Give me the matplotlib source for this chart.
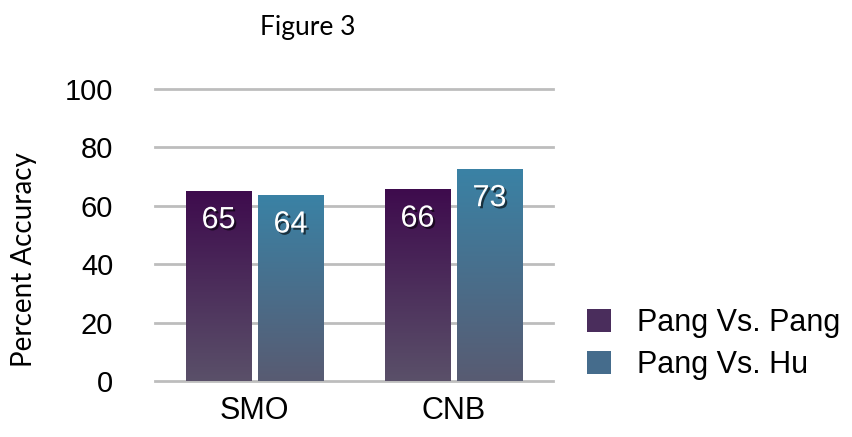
import matplotlib
matplotlib.use("Agg")
import matplotlib.pyplot as plt
import matplotlib.patheffects as pe
from matplotlib.colors import LinearSegmentedColormap
import numpy as np

categories = ["SMO", "CNB"]
series_names = ["Pang Vs. Pang", "Pang Vs. Hu"]
pang_pang = [65.1, 65.6]
pang_hu = [63.6, 72.6]
yticks = [0, 20, 40, 60, 80, 100]

# gradient colours (top, bottom)
grad = [("#3e0b4d", "#5a5069"), ("#3a82a5", "#585b72")]

fig = plt.figure(figsize=(8.53, 4.37), dpi=100)
ax = fig.add_axes([155/853, 56/437, 398/853, 292/437])

x = np.arange(len(categories))
w = 0.327
gap = 0.035
for i, (vals, name) in enumerate(zip([pang_pang, pang_hu], series_names)):
  off = (i - 0.5) * (w + gap)
  bars = ax.bar(x + off, vals, w, color=grad[i][0], label=name, zorder=2)
  cmap = LinearSegmentedColormap.from_list("g%d" % i, [grad[i][1], grad[i][0]])
  for b in bars:
    x0, y0 = b.get_x(), b.get_y()
    bw, bh = b.get_width(), b.get_height()
    b.set_facecolor("none")
    img = np.linspace(0, 1, 256).reshape(-1, 1)
    im = ax.imshow(img, cmap=cmap, aspect="auto", origin="lower",
                   extent=[x0, x0 + bw, y0, y0 + bh], zorder=2.5)
    im.set_clip_path(b)
    ax.annotate(f"{bh:.0f}", (x0 + bw/2, bh), xytext=(0, -21), textcoords="offset points",
                ha="center", va="center", fontsize=22, color="white",
                family="Liberation Sans", zorder=4,
                path_effects=[pe.withSimplePatchShadow(offset=(1.5, -1.5), shadow_rgbFace="black", alpha=0.6)])

ax.set_xlim(-0.5, len(categories) - 0.5)
ax.set_ylim(0, 100)
ax.set_yticks(yticks)
ax.yaxis.grid(True, color="#bdbdbd", linewidth=2, zorder=0)
for t in ax.yaxis.get_gridlines():
  t.set_clip_on(False)
ax.set_axisbelow(True)
for s in ax.spines.values():
  s.set_visible(False)
ax.set_xticks(x)
ax.set_xticklabels(categories)
ax.tick_params(axis="both", length=0, labelsize=21)
ax.tick_params(axis="y", pad=30)
ax.tick_params(axis="x", pad=11)
for lab in ax.get_xticklabels():
  lab.set_fontsize(22)
for lab in ax.get_xticklabels() + ax.get_yticklabels():
  lab.set_family("Liberation Sans")

fig.text(24/853, 1 - 260/437, "Percent Accuracy", rotation=90, ha="center", va="center",
         fontsize=20, family="Lato")
fig.text(308/853, 1 - 27/437, "Figure 3", ha="center", va="center", fontsize=19, family="Lato")

handles = [plt.Rectangle((0, 0), 1, 1, facecolor="#4a2d5c"),
           plt.Rectangle((0, 0), 1, 1, facecolor="#456c8c")]
leg = fig.legend(handles, series_names, loc="center left", bbox_to_anchor=(587/853, 1 - 344/437),
                 frameon=False, prop={"family": "Liberation Sans", "size": 22}, borderpad=0,
                 borderaxespad=0, handlelength=0.8, handleheight=0.8, handletextpad=0.85,
                 labelspacing=0.4)

fig.savefig("out.png", dpi=100)
